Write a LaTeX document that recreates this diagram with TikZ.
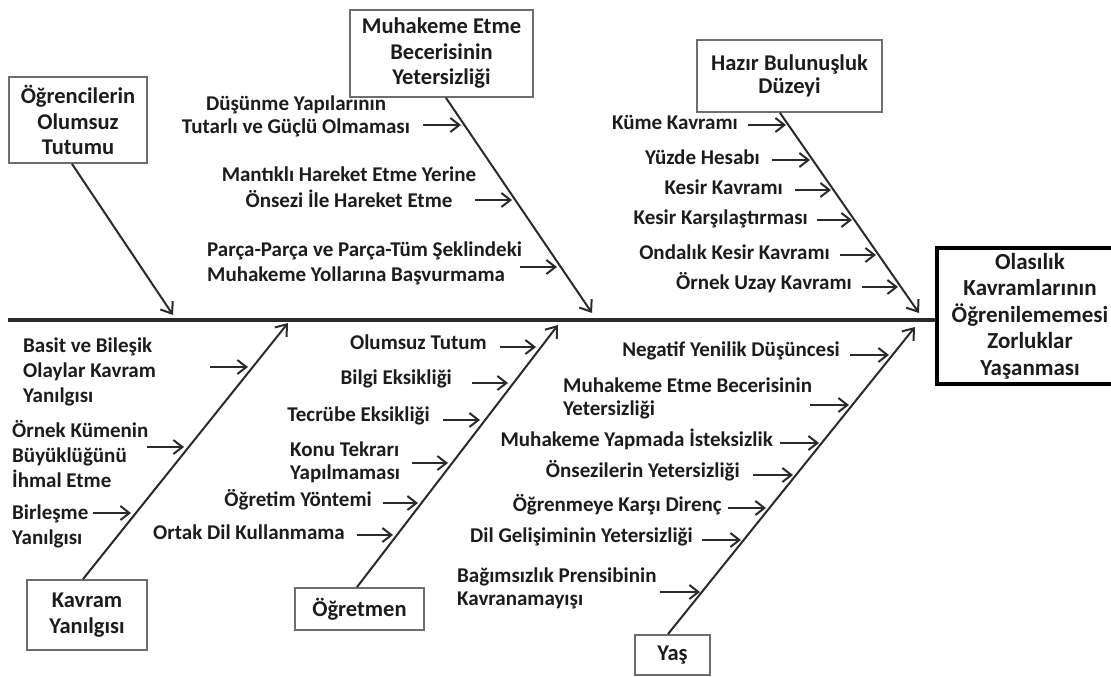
\documentclass[tikz,border=0pt]{standalone}
\usepackage{fontspec}
\setmainfont{Carlito}
\usetikzlibrary{arrows.meta}
\definecolor{ink}{HTML}{1C1C1C}
\definecolor{bonecol}{HTML}{2A2A2A}
\definecolor{boxcol}{HTML}{6E6E6E}
\begin{document}
\begin{tikzpicture}[x=1pt,y=-1pt,
  lbl/.style={font=\fontsize{21}{23}\selectfont\bfseries, text=ink, inner sep=0pt},
  lblw/.style={lbl, font=\fontsize{21}{25}\selectfont\bfseries},
  causebox/.style={draw=boxcol, line width=1.8pt, fill=white, inner sep=0pt, align=center,
    font=\fontsize{22.5}{25.5}\selectfont\bfseries, text=ink},
  effbox/.style={draw=black, line width=3.5pt, fill=white, inner sep=0pt, align=center,
    font=\fontsize{23}{26.5}\selectfont\bfseries, text=ink},
  spine/.style={draw=bonecol, line width=3.5pt},
  bone/.style={draw=bonecol, line width=2pt, -{Straight Barb[length=10pt,width=15pt]}},
  sub/.style={draw=bonecol, line width=2pt, -{Straight Barb[length=9pt,width=14pt]}}]
\useasboundingbox (0,0) rectangle (1111,677);

% effect
\node[effbox, minimum width=186, minimum height=136] (eff) at (1030,316)
  {Olasılık\\Kavramlarının\\Öğrenilememesi\\Zorluklar\\Yaşanması};
\coordinate (tail) at (8,320);
\draw[spine] (tail) -- (tail -| eff.west);

% cause boxes
\node[causebox, minimum width=138, minimum height=86] (b1) at (78,120) {Öğrencilerin\\Olumsuz\\Tutumu};
\node[causebox, minimum width=183, minimum height=87] (b2) at (441.5,53.5) {Muhakeme Etme\\Becerisinin\\Yetersizliği};
\node[causebox, minimum width=185, minimum height=72, font=\fontsize{22.5}{23.5}\selectfont\bfseries] (b3) at (789.5,76) {Hazır Bulunuşluk\\Düzeyi};
\node[causebox, minimum width=120, minimum height=70] (b4) at (87,615) {Kavram\\Yanılgısı};
\node[causebox, minimum width=129, minimum height=42] (b5) at (359.5,609) {Öğretmen};
\node[causebox, minimum width=75, minimum height=40] (b6) at (672.5,655) {Yaş};

% bone tips
\coordinate (t1) at (173,315);
\coordinate (t2) at (592,313);
\coordinate (t3) at (919,313);
\coordinate (t4) at (288,323);
\coordinate (t5) at (558,325);
\coordinate (t6) at (915,327);
\draw[bone] ([xshift=-6pt]b1.south) -- (t1);
\draw[bone] ([xshift=4.5pt]b2.south) -- (t2);
\draw[bone] ([xshift=-9.5pt]b3.south) -- (t3);
\draw[bone] ([xshift=-4pt]b4.north) -- (t4);
\draw[bone] ([xshift=-2.5pt]b5.north) -- (t5);
\draw[bone] ([xshift=-4.5pt]b6.north) -- (t6);

% bone 2 labels
\node[lbl, align=center] (l21) at (296,116) {Düşünme Yapılarının\\Tutarlı ve Güçlü Olmaması};
\node[lbl, align=center, font=\fontsize{21}{26}\selectfont\bfseries] (l22) at (349,187) {Mantıklı Hareket Etme Yerine\\Önsezi İle Hareket Etme};
\node[lbl, align=left, anchor=west, font=\fontsize{21}{25}\selectfont\bfseries] (l23) at (207,263) {Parça-Parça ve Parça-Tüm Şeklindeki\\Muhakeme Yollarına Başvurmama};
\coordinate (s21) at (423,125); \coordinate (e21) at (461,125);
\coordinate (s22) at (475,200); \coordinate (e22) at (512,200);
\coordinate (s23) at (520,267); \coordinate (e23) at (557,267);
\draw[sub] (s21) -- (e21);
\draw[sub] (s22) -- (e22);
\draw[sub] (s23) -- (e23);

% bone 3 labels
\node[lbl, anchor=mid east] (l31) at (738,127) {Küme Kavramı};
\node[lbl, anchor=mid east] (l32) at (760,162) {Yüzde Hesabı};
\node[lbl, anchor=mid east] (l33) at (783,192) {Kesir Kavramı};
\node[lbl, anchor=mid east] (l34) at (808,222) {Kesir Karşılaştırması};
\node[lbl, anchor=mid east] (l35) at (830,257) {Ondalık Kesir Kavramı};
\node[lbl, anchor=mid east] (l36) at (852,287) {Örnek Uzay Kavramı};
\coordinate (s31) at (748,125); \coordinate (e31) at (786,125);
\coordinate (s32) at (772,160); \coordinate (e32) at (810,160);
\coordinate (s33) at (795,190); \coordinate (e33) at (831,190);
\coordinate (s34) at (817,220); \coordinate (e34) at (852,220);
\coordinate (s35) at (840,255); \coordinate (e35) at (876,255);
\coordinate (s36) at (862,287); \coordinate (e36) at (898,287);
\foreach \i in {1,...,6} {\draw[sub] (s3\i) -- (e3\i);}

% bone 4 labels
\node[lblw, align=left, anchor=west] (l41) at (23,372) {Basit ve Bileşik\\Olaylar Kavram\\Yanılgısı};
\node[lblw, align=left, anchor=west] (l42) at (12,454) {Örnek Kümenin\\Büyüklüğünü\\İhmal Etme};
\node[lblw, align=left, anchor=west] (l43) at (12,526) {Birleşme\\Yanılgısı};
\coordinate (s41) at (210,367); \coordinate (e41) at (248,367);
\coordinate (s42) at (147,447); \coordinate (e42) at (184,447);
\coordinate (s43) at (93,513); \coordinate (e43) at (131,513);
\foreach \i in {1,2,3} {\draw[sub] (s4\i) -- (e4\i);}

% bone 5 labels
\node[lbl, anchor=mid east] (l51) at (487,347) {Olumsuz Tutum};
\node[lbl, anchor=mid east] (l52) at (452,382) {Bilgi Eksikliği};
\node[lbl, anchor=mid east] (l53) at (430,419) {Tecrübe Eksikliği};
\node[lbl, align=left, anchor=west] (l54) at (290,462) {Konu Tekrarı\\Yapılmaması};
\node[lbl, anchor=mid east] (l55) at (372,504) {Öğretim Yöntemi};
\node[lbl, anchor=mid east] (l56) at (345,537) {Ortak Dil Kullanmama};
\coordinate (s51) at (500,347); \coordinate (e51) at (536,347);
\coordinate (s52) at (472,383); \coordinate (e52) at (508,383);
\coordinate (s53) at (443,420); \coordinate (e53) at (480,420);
\coordinate (s54) at (412,463); \coordinate (e54) at (448,463);
\coordinate (s55) at (383,503); \coordinate (e55) at (418,503);
\coordinate (s56) at (357,535); \coordinate (e56) at (393,535);
\foreach \i in {1,...,6} {\draw[sub] (s5\i) -- (e5\i);}

% bone 6 labels
\node[lbl, anchor=mid east] (l61) at (840,354) {Negatif Yenilik Düşüncesi};
\node[lbl, align=left, anchor=west] (l62) at (563,398) {Muhakeme Etme Becerisinin\\Yetersizliği};
\node[lbl, anchor=mid east] (l63) at (773,444) {Muhakeme Yapmada İsteksizlik};
\node[lbl, anchor=mid east] (l64) at (740,475) {Önsezilerin Yetersizliği};
\node[lbl, anchor=mid east] (l65) at (722,509) {Öğrenmeye Karşı Direnç};
\node[lbl, anchor=mid east] (l66) at (693,540) {Dil Gelişiminin Yetersizliği};
\node[lbl, align=left, anchor=west] (l67) at (457,588) {Bağımsızlık Prensibinin\\Kavranamayışı};
\coordinate (s61) at (850,355); \coordinate (e61) at (889,355);
\coordinate (s62) at (810,405); \coordinate (e62) at (849,405);
\coordinate (s63) at (780,443); \coordinate (e63) at (819,443);
\coordinate (s64) at (753,475); \coordinate (e64) at (793,475);
\coordinate (s65) at (728,508); \coordinate (e65) at (766,508);
\coordinate (s66) at (702,540); \coordinate (e66) at (741,540);
\coordinate (s67) at (660,592); \coordinate (e67) at (700,592);
\foreach \i in {1,...,7} {\draw[sub] (s6\i) -- (e6\i);}
\end{tikzpicture}
\end{document}
